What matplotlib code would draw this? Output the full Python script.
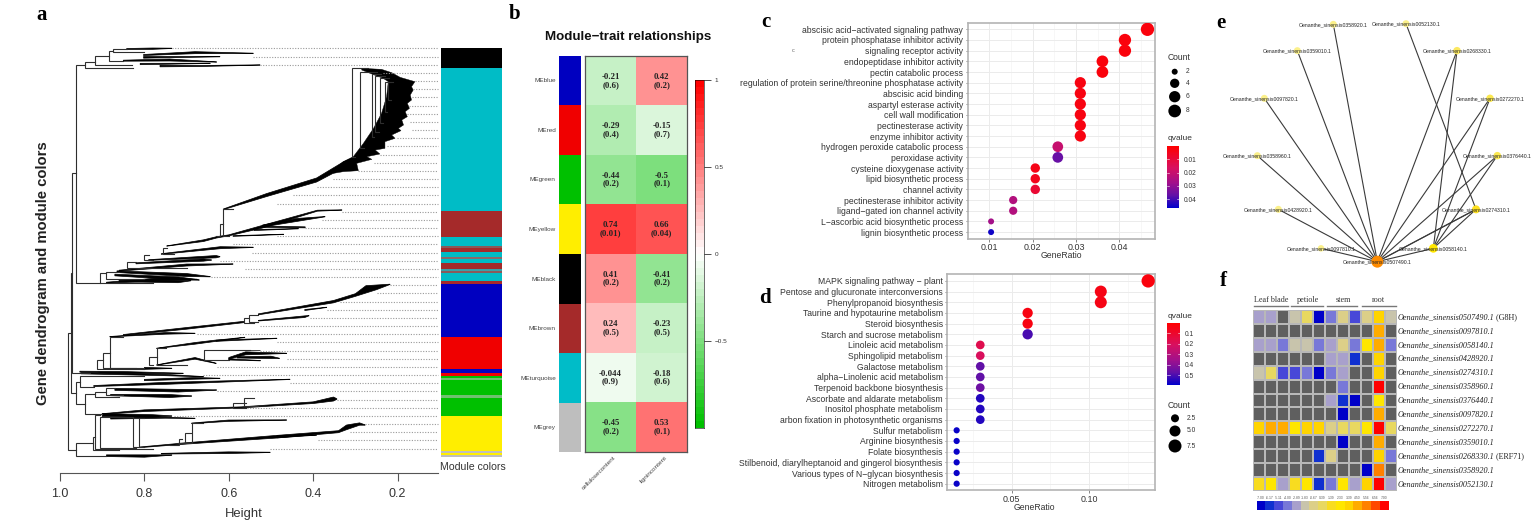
"""plot.py
Composite WGCNA figure: dendrogram, module-trait heatmap, two enrichment
dot plots, co-expression network and expression heatmap.
"""

import matplotlib

matplotlib.use("Agg")
import matplotlib.pyplot as plt
import numpy as np
from matplotlib.colors import LinearSegmentedColormap, ListedColormap

W, H = 1531, 528
SANS = "Liberation Sans"
SERIF = "Liberation Serif"
plt.rcParams["font.family"] = SANS

# ── Panel a: dendrogram ────────────────────────────────────────────────────────
# leaf rows run 145, 169.5, ... on a 0-1584 vertical scale
LEAF_TIPS = [
    .735, .542, .526, .234, .159, .163, .167, .174, .178, .170,
    .167, .202, .226, .242, .257, .293, .352, .392, .447, .486,
    .332, .380, .419, .486, .589, .546, .621, .562, .641, .218,
    .250, .336, .368, .408, .526, .676, .486, .526, .463, .629,
    .660, .455, .629, .344, .558, .731, .277, .313, .388, .502,
]

# (height, y top, y bottom, end of top arm, end of bottom arm)
BRANCHES = [
    (.982, 998, 1350, .974, .962), (.974, 820, 1178, .972, .962),
    (.972, 520, 1118, .963, .930), (.963, 195, 848, .941, .905),
    (.941, 185, 203, .917, .826), (.917, 168, 195, .885, .830),
    (.885, 152, 182, .874, .850), (.874, 148, 157, .842, .800),
    (.905, 820, 848, .890, .780), (.890, 815, 838, .860, .800),
    (.613, 628, 708, .590, .600), (.621, 672, 708, .613, .630),
    (.755, 745, 762, .747, .730), (.800, 765, 780, .790, .780),
    (.842, 785, 805, .820, .700), (.553, 945, 965, .530, .530),
    (.565, 955, 968, .553, .540), (.882, 1010, 1105, .850, .800),
    (.897, 1058, 1105, .882, .820), (.912, 1080, 1108, .897, .800),
    (.771, 1045, 1095, .750, .700), (.790, 1070, 1095, .771, .780),
    (.659, 1050, 1080, .550, .600), (.953, 1128, 1160, .800, .920),
    (.962, 1145, 1212, .953, .941), (.941, 1183, 1242, .917, .900),
    (.917, 1175, 1190, .890, .860), (.890, 1165, 1185, .870, .850),
    (.590, 1210, 1225, .560, .560), (.565, 1195, 1218, .540, .530),
    (.962, 1330, 1367, .921, .890), (.921, 1310, 1350, .917, .860),
    (.917, 1245, 1348, .905, .780), (.905, 1250, 1345, .826, .820),
    (.826, 1255, 1340, .812, .812), (.812, 1255, 1340, .800, .800),
    (.688, 1270, 1330, .660, .720), (.703, 1300, 1330, .690, .720),
    (.719, 1318, 1335, .710, .740),
    (.309, 205, 470, .270, .300), (.289, 215, 445, .250, .280),
    (.261, 222, 410, .240, .255), (.253, 228, 395, .230, .245),
    (.242, 235, 370, .220, .235), (.230, 245, 335, .215, .225),
    (.222, 245, 300, .210, .215),
]

# each sweep is a tapered run of leaves: (height, y, thickness)
SWEEPS = [
    [(.842, 147, 3), (.780, 146, 4), (.735, 145, 1)],
    [(.802, 165, 3), (.680, 158, 6), (.542, 160, 1)],
    [(.802, 172, 5), (.621, 170, 1)],
    [(.850, 182, 3), (.740, 180, 6), (.629, 186, 1)],
    [(.810, 192, 4), (.644, 190, 1)],
    [(.763, 198, 5), (.668, 198, 3), (.526, 195, 1)],
    [(.613, 628, 2), (.510, 585, 9), (.392, 540, 12), (.329, 495, 18), (.300, 475, 10)],
    [(.747, 738, 1), (.660, 722, 5), (.629, 712, 4), (.600, 706, 3), (.520, 680, 8),
     (.390, 632, 3), (.332, 630, 1)],
    [(.760, 762, 2), (.620, 743, 6), (.542, 742, 1)],
    [(.790, 780, 2), (.630, 770, 7), (.621, 770, 1)],
    [(.820, 790, 3), (.660, 780, 7), (.641, 780, 1)],
    [(.860, 812, 3), (.700, 795, 6), (.590, 792, 1)],
    [(.865, 815, 5), (.700, 825, 9), (.644, 830, 1)],
    [(.870, 825, 5), (.720, 835, 9), (.670, 840, 1)],
    [(.890, 848, 3), (.760, 838, 9), (.675, 838, 1)],
    [(.860, 843, 5), (.720, 845, 6), (.690, 842, 1)],
    [(.520, 680, 4), (.419, 682, 3)],
    [(.540, 690, 3), (.435, 686, 1)],
    [(.590, 708, 2), (.470, 703, 1)],
    [(.520, 678, 6), (.440, 660, 9), (.372, 650, 1)],
    [(.882, 1010, 1), (.750, 1000, 5), (.680, 1000, 1)],
    [(.850, 1005, 3), (.700, 985, 5), (.565, 966, 4)],
    [(.530, 943, 3), (.352, 905, 7), (.300, 885, 8), (.275, 868, 22), (.250, 862, 14),
     (.218, 853, 1)],
    [(.530, 962, 2), (.420, 950, 5), (.410, 947, 1)],
    [(.420, 930, 3), (.368, 922, 1)],
    [(.771, 1045, 1), (.680, 1030, 5), (.630, 1022, 4), (.486, 1015, 1)],
    [(.630, 1022, 3), (.562, 1012, 1)],
    [(.771, 1095, 1), (.680, 1075, 5), (.630, 1090, 1)],
    [(.659, 1050, 2), (.526, 1050, 2)],
    [(.600, 1075, 5), (.560, 1060, 9), (.463, 1060, 1)],
    [(.580, 1072, 4), (.500, 1072, 7), (.480, 1075, 1)],
    [(.600, 1078, 4), (.525, 1082, 1)],
    [(.800, 1105, 6), (.735, 1105, 1)],
    [(.953, 1115, 3), (.850, 1118, 7), (.708, 1120, 1)],
    [(.950, 1120, 3), (.750, 1125, 4), (.660, 1130, 1)],
    [(.800, 1140, 4), (.680, 1135, 5), (.621, 1135, 1)],
    [(.920, 1158, 3), (.750, 1150, 6), (.455, 1138, 1)],
    [(.870, 1168, 6), (.720, 1172, 8), (.629, 1170, 1)],
    [(.880, 1185, 4), (.740, 1188, 9), (.688, 1188, 1)],
    [(.900, 1242, 2), (.800, 1232, 5), (.570, 1222, 3), (.400, 1208, 5), (.352, 1197, 12),
     (.344, 1197, 2)],
    [(.900, 1245, 9), (.780, 1248, 8), (.735, 1248, 1)],
    [(.880, 1255, 4), (.750, 1253, 3), (.680, 1255, 1)],
    [(.812, 1342, 2), (.700, 1330, 4), (.486, 1310, 8), (.340, 1295, 6), (.321, 1282, 14),
     (.290, 1272, 7), (.277, 1275, 1)],
    [(.486, 1310, 7), (.392, 1305, 1)],
    [(.688, 1270, 2), (.600, 1262, 4), (.463, 1260, 1)],
    [(.890, 1367, 5), (.800, 1368, 7), (.735, 1365, 1)],
    [(.760, 1361, 2), (.600, 1358, 5), (.502, 1357, 1)],
]

# fan-shaped block of leaves at the top of the turquoise module
FAN_H = [.285, .238, .214, .194, .159, .167, .163, .170, .167, .177, .172, .182, .177, .190,
         .186, .198, .192, .214, .206, .230, .230, .253, .242, .273, .261, .297, .293, .329,
         .352, .352, .329, .305, .281, .257, .238, .226, .222, .234, .261, .285]
FAN_Y = [205, 208, 218, 232, 245, 260, 270, 285, 300, 310, 325, 335, 350, 360,
         375, 385, 392, 405, 415, 425, 445, 450, 462, 470, 478, 490, 512, 515,
         520, 512, 485, 470, 430, 385, 340, 290, 245, 235, 222, 210]

MODULE_EDGES = [145, 205, 632, 712, 738, 745, 757, 772, 777, 790, 808, 812, 820, 843, 852,
                1012, 1108, 1118, 1127, 1135, 1140, 1185, 1195, 1248, 1353, 1358, 1365, 1372]
MODULE_COLORS = ["#000000", "#00BCC6", "#A52A2A", "#00BCC6", "#8A5A5A", "#A52A2A", "#00BCC6",
                 "#8A6A6A", "#00BCC6", "#A52A2A", "#3AA0A8", "#8A5A5A", "#00BCC6", "#A52A2A",
                 "#0000C0", "#F00000", "#0000C0", "#F00000", "#00C000", "#70C070", "#00C000",
                 "#70C070", "#00C000", "#FFEE00", "#BEBEBE", "#FFEE00", "#BEBEBE"]
HEIGHT_TICKS = [1.0, 0.8, 0.6, 0.4, 0.2]

# ── Panel b: module-trait relationships ────────────────────────────────────────
ME_NAMES = ["MEblue", "MEred", "MEgreen", "MEyellow", "MEblack", "MEbrown", "MEturquoise", "MEgrey"]
ME_COLORS = ["#0000C0", "#F00000", "#00C000", "#FFEE00", "#000000", "#A52A2A", "#00BCC8", "#BEBEBE"]
TRAITS = ["cellulosecontent", "lignincontent"]
CELLULOSE_R = [-0.21, -0.29, -0.44, 0.74, 0.41, 0.24, -0.044, -0.45]
LIGNIN_R = [0.42, -0.15, -0.5, 0.66, -0.41, -0.23, -0.18, 0.53]
CELLULOSE_P = ["0.6", "0.4", "0.2", "0.01", "0.2", "0.5", "0.9", "0.2"]
LIGNIN_P = ["0.2", "0.7", "0.1", "0.04", "0.2", "0.5", "0.6", "0.1"]
R_TICKS = [-0.5, 0, 0.5, 1]

# ── Panel c: GO enrichment ─────────────────────────────────────────────────────
GO_TERMS = [
    "abscisic acid\u2212activated signaling pathway", "protein phosphatase inhibitor activity",
    "signaling receptor activity", "endopeptidase inhibitor activity", "pectin catabolic process",
    "regulation of protein serine/threonine phosphatase activity", "abscisic acid binding",
    "aspartyl esterase activity", "cell wall modification", "pectinesterase activity",
    "enzyme inhibitor activity", "hydrogen peroxide catabolic process", "peroxidase activity",
    "cysteine dioxygenase activity", "lipid biosynthetic process", "channel activity",
    "pectinesterase inhibitor activity", "ligand\u2212gated ion channel activity",
    "L\u2212ascorbic acid biosynthetic process", "lignin biosynthetic process",
]
GO_RATIO = [.0465, .0413, .0413, .0361, .0361, .031, .031, .031, .031, .031, .031,
            .0258, .0258, .0206, .0206, .0206, .0155, .0155, .0104, .0104]
GO_COUNT = [9, 8, 8, 7, 7, 6, 6, 6, 6, 6, 6, 5, 5, 4, 4, 4, 3, 3, 2, 2]
GO_Q = [.002, .002, .002, .002, .002, .003, .003, .003, .003, .003, .003,
        .020, .036, .004, .005, .009, .024, .024, .027, .045]
GO_DIAM = {9: 13.3, 8: 12.3, 7: 11.7, 6: 11.2, 5: 10.7, 4: 9.4, 3: 8.2, 2: 6}
GO_X_TICKS = [0.01, 0.02, 0.03, 0.04]
GO_Q_TICKS = [0.01, 0.02, 0.03, 0.04]
GO_LEGEND_COUNT = ["2", "4", "6", "8"]
GO_LEGEND_DIAM = [6, 9.3, 11.3, 12.7]

# ── Panel d: KEGG enrichment ───────────────────────────────────────────────────
KEGG_TERMS = [
    "MAPK signaling pathway \u2212 plant", "Pentose and glucuronate interconversions",
    "Phenylpropanoid biosynthesis", "Taurine and hypotaurine metabolism", "Steroid biosynthesis",
    "Starch and sucrose metabolism", "Linoleic acid metabolism", "Sphingolipid metabolism",
    "Galactose metabolism", "alpha\u2212Linolenic acid metabolism", "Terpenoid backbone biosynthesis",
    "Ascorbate and aldarate metabolism", "Inositol phosphate metabolism",
    "arbon fixation in photosynthetic organisms", "Sulfur metabolism", "Arginine biosynthesis",
    "Folate biosynthesis", "Stilbenoid, diarylheptanoid and gingerol biosynthesis",
    "Various types of N\u2212glycan biosynthesis", "Nitrogen metabolism",
]
KEGG_RATIO = [.1379, .1074, .1074, .0603, .0603, .0603, .0298, .0298, .0298, .0298, .0298,
              .0298, .0298, .0298, .0146, .0146, .0146, .0146, .0146, .0146]
KEGG_COUNT = [9, 7, 7, 4, 4, 4, 2, 2, 2, 2, 2, 2, 2, 2, 1, 1, 1, 1, 1, 1]
KEGG_Q = [.03, .05, .05, .04, .04, .50, .17, .20, .47, .47, .45, .55, .55, .55,
          .58, .58, .58, .58, .58, .58]
KEGG_DIAM = {9: 13.3, 7: 12, 4: 10.3, 2: 8.7, 1: 6.2}
KEGG_X_TICKS = [0.05, 0.10]
KEGG_Q_TICKS = [0.1, 0.2, 0.3, 0.4, 0.5]
KEGG_LEGEND_COUNT = ["2.5", "5.0", "7.5"]
KEGG_LEGEND_DIAM = [8, 11, 13]

# ── Panel e: network ───────────────────────────────────────────────────────────
NODES = ["0507490", "0058140", "0097810", "0428920", "0358960", "0097820", "0359010",
         "0358920", "0052130", "0268330", "0272270", "0376440", "0274310"]
NODE_X = [502, 670, 333, 205, 142, 163, 262, 370, 588, 741, 840, 862, 798]
NODE_Y = [785, 745, 745, 628, 467, 295, 152, 73, 71, 152, 295, 467, 628]
NODE_DIAM = [12, 8.7, 6.5, 7, 7, 7, 7, 7, 7, 7.5, 7.5, 7.5, 8]
NODE_COLORS = ["#FF8C00", "#FFE600", "#FBF08A", "#FBF08A", "#FBF08A", "#FBF08A", "#FBF08A",
               "#FBF08A", "#FBF08A", "#FBE860", "#FBE850", "#FBE850", "#FDE020"]
EDGE_A = ["0507490"] * 12 + ["0058140", "0058140", "0058140", "0058140", "0274310"]
EDGE_B = ["0058140", "0097810", "0428920", "0358960", "0097820", "0359010", "0358920",
          "0268330", "0272270", "0376440", "0274310", "0274310",
          "0268330", "0272270", "0376440", "0274310", "0052130"]

# ── Panel f: expression heatmap ────────────────────────────────────────────────
STEP_COLORS = ["#0000C8", "#1030D0", "#4848D8", "#7878D8", "#A8A0CC", "#C8C4AC", "#DCCF88", "#E8D860",
               "#F8DC20", "#FFE600", "#FFD400", "#FFAC00", "#FF8000", "#FF4800", "#FF0000"]
STEP_LABELS = ["-7.00", "-6.17", "-5.11", "-4.00", "-2.89", "-1.83", "-0.67", "0.39",
               "1.39", "2.33", "3.39", "4.50", "5.56", "6.56", "7.00"]
TISSUES = ["Leaf blade", "petiole", "stem", "root"]
GENES = ["0507490", "0097810", "0058140", "0428920", "0274310", "0358960", "0376440",
         "0097820", "0272270", "0359010", "0268330", "0358920", "0052130"]
GENE_NOTES = {"0507490": " (G8H)", "0268330": " (ERF71)"}
n = np.nan
EXPR = [
    [4, 4, n, 5, 7, 0, 3, 6, 2, 6, 10, 5],
    [n, n, n, n, n, n, n, n, n, n, 11, n],
    [4, 4, 3, 5, 5, 3, 4, 6, 3, 9, 11, 3],
    [n, n, n, n, n, n, 4, 4, 1, n, 10, n],
    [5, 7, 2, 2, 3, 0, 3, 4, n, n, 10, n],
    [n, n, n, n, n, n, n, 3, n, n, 14, n],
    [n, n, n, n, n, n, 4, 1, 0, n, 9, n],
    [n, n, n, n, n, n, n, 0, n, n, 11, n],
    [10, 11, 11, 9, 10, 10, 6, 7, 7, 9, 14, 7],
    [n, n, n, n, n, n, n, 0, n, n, 11, n],
    [n, n, n, n, n, 1, 6, n, n, n, 10, 3],
    [n, n, n, n, n, n, n, n, n, 0, 12, n],
    [8, 9, 4, 8, 9, 1, 3, 9, 4, 10, 14, 4],
]

# ── Figure ─────────────────────────────────────────────────────────────────────
fig = plt.figure(figsize=(W / 100, H / 100), dpi=100)


def px_axes(x0, y0, x1, y1):
    """Axes placed by pixel box, y measured from the top of the image."""
    return fig.add_axes([x0 / W, 1 - y1 / H, (x1 - x0) / W, (y1 - y0) / H])


def pt_size(diam_px):
    return (diam_px * 0.72) ** 2


over = px_axes(0, 0, W, H)
over.set_xlim(0, W)
over.set_ylim(H, 0)
over.axis("off")
over.set_zorder(5)

for letter, x, y in [("a", 42, 15), ("b", 515, 14), ("c", 766, 22), ("d", 765, 298),
                     ("e", 1221, 23), ("f", 1223, 281)]:
    over.text(x, y, letter, family=SERIF, weight="bold", fontsize=15, ha="center", va="center")
over.text(793, 50, "c", fontsize=4, color="#666666", ha="center", va="center")

# a: dendrogram
LINE = "#2E2E2E"
ax = px_axes(60, 0, 440, 472.7)
ax.set_xlim(1.0, 1 - 380 / 422)
ax.set_ylim(1418, 0)
ax.patch.set_alpha(0)
for i, tip in enumerate(LEAF_TIPS):
    y = 145 + i * 24.5
    ax.plot([tip, 0.105], [y, y], color="#999999", lw=0.8, ls=(0, (1, 1.4)))
for h, y0, y1, top, bot in BRANCHES:
    ax.plot([top, h, h, bot], [y0, y0, y1, y1], color=LINE, lw=0.8, solid_joinstyle="miter")
for sweep in SWEEPS:
    hs, ys, ws = np.array(sweep).T
    ax.fill(np.r_[hs, hs[::-1]], np.r_[ys - ws / 2, (ys + ws / 2)[::-1]], color="black", lw=0.5)
ax.fill(FAN_H, FAN_Y, color="black", lw=0.3)
for side in ["top", "left", "right"]:
    ax.spines[side].set_visible(False)
ax.spines["bottom"].set_bounds(1.0, 0.105)
ax.spines["bottom"].set_color("#555555")
ax.spines["bottom"].set_linewidth(0.8)
ax.set_yticks([])
ax.set_xticks(HEIGHT_TICKS)
ax.set_xticklabels([f"{v:.1f}" for v in HEIGHT_TICKS], fontsize=9, color="#333333")
ax.tick_params(axis="x", length=5.8, width=0.8, color="#555555", pad=5)
over.text(244, 514, "Height", fontsize=9.4, color="#333333", ha="center", va="center")
over.text(42.7, 273, "Gene dendrogram and module colors", fontsize=10.7, rotation=90,
          weight="bold", color="#222222", ha="center", va="center")
over.text(472.7, 467, "Module colors", fontsize=7.6, color="#333333", ha="center", va="center")

ax = px_axes(440.7, 48.3, 501.7, 457.3)
ax.bar(0, np.diff(MODULE_EDGES), bottom=MODULE_EDGES[:-1], width=1, color=MODULE_COLORS, lw=0)
ax.set_xlim(-0.5, 0.5)
ax.set_ylim(1372, 145)
ax.axis("off")

# b: module-trait heatmap
ax = px_axes(559.3, 55.5, 581.3, 452.3)
ax.bar(0, [1] * 8, bottom=np.arange(8), width=1, color=ME_COLORS, lw=0)
ax.set_xlim(-0.5, 0.5)
ax.set_ylim(8, 0)
ax.set_xticks([])
ax.set_yticks(np.arange(8) + 0.5)
ax.set_yticklabels(ME_NAMES, fontsize=4.6, color="#444444")
ax.tick_params(axis="y", length=0, pad=2.5)
for sp in ax.spines.values():
    sp.set_visible(False)

r_cmap = LinearSegmentedColormap.from_list("gwr", ["#00C000", "#FFFFFF", "#FF0000"], N=50)
ax = px_axes(585, 56, 687.3, 451.7)
r_values = np.array([CELLULOSE_R, LIGNIN_R]).T
ax.pcolormesh(r_values, cmap=r_cmap, vmin=-1, vmax=1)
ax.set_ylim(8, 0)
ax.set_xticks([])
ax.set_yticks([])
for sp in ax.spines.values():
    sp.set_color("#555555")
    sp.set_linewidth(0.9)
for i in range(8):
    for j, (rs, ps) in enumerate([(CELLULOSE_R, CELLULOSE_P), (LIGNIN_R, LIGNIN_P)]):
        ax.text(j + 0.5, i + 0.5, f"{rs[i]:g}\n({ps[i]})", family=SERIF, weight="bold", fontsize=6.3,
                linespacing=1.0, color="#222222", ha="center", va="center")
for j, name in enumerate(TRAITS):
    ax.text(j + 0.56, 8.07, name, fontsize=4.6, color="#444444", rotation=45, ha="right", va="top",
            rotation_mode="anchor", clip_on=False)
over.text(628, 37, "Module\u2212trait relationships", fontsize=9.6, weight="bold", color="#111111",
          ha="center", va="center")

ax = px_axes(695, 80, 704.3, 428)
ax.pcolormesh([0, 1], np.linspace(-1, 1, 51), np.linspace(-1, 1, 50)[:, None], cmap=r_cmap, vmin=-1, vmax=1)
ax.set_xticks([])
ax.yaxis.tick_right()
ax.set_yticks(R_TICKS)
ax.set_yticklabels(["\u22120.5", "0", "0.5", "1"], fontsize=4.6, color="#333333")
ax.tick_params(axis="y", length=5.3, width=0.6, pad=2, color="#333333")
for sp in ax.spines.values():
    sp.set_linewidth(0.4)

# c, d: dot plots
q_cmap = LinearSegmentedColormap.from_list(
    "q", [(0, "#FF0000"), (0.35, "#D8105F"), (0.6, "#A0108C"), (0.8, "#6010A8"), (1, "#0000CC")]
)


def dot_panel(box, terms, ratio, count, q, diam, q_lim, xlim, xticks, xfmt):
    ax = px_axes(*box)
    ax.set_axisbelow(True)
    rows = np.arange(len(terms))
    sizes = [pt_size(diam[c]) for c in count]
    ax.scatter(ratio, rows, s=sizes, c=q, cmap=q_cmap, vmin=q_lim[0], vmax=q_lim[1], lw=0, zorder=3)
    ax.set_xlim(*xlim)
    ax.set_ylim(len(terms) - 1 + 0.62, -0.62)
    ax.set_yticks(rows)
    ax.set_yticklabels(terms, fontsize=6.2, color="#333333")
    ax.set_xticks(xticks)
    ax.set_xticklabels([xfmt.format(v) for v in xticks], fontsize=6.4, color="#333333")
    mids = np.array(xticks[:-1]) + np.diff(xticks) / 2
    step = xticks[1] - xticks[0]
    ax.set_xticks(np.r_[xticks[0] - step / 2, mids, xticks[-1] + step / 2], minor=True)
    ax.grid(True, which="major", color="#EBEBEB", lw=0.7)
    ax.grid(True, which="minor", axis="x", color="#F2F2F2", lw=0.4)
    ax.tick_params(axis="both", which="major", length=1.8, width=0.5, pad=1.5, color="#555555")
    ax.tick_params(axis="x", which="minor", length=0)
    for sp in ax.spines.values():
        sp.set_color("#B4B4B4")
        sp.set_linewidth(1.2)
    return ax


def q_legend(box, q_lim, ticks, fmt):
    ax = px_axes(*box)
    levels = np.linspace(q_lim[0], q_lim[1], 101)
    ax.pcolormesh([0, 1], levels, ((levels[:-1] + levels[1:]) / 2)[:, None], cmap=q_cmap,
                  vmin=q_lim[0], vmax=q_lim[1])
    ax.set_ylim(q_lim[1], q_lim[0])
    ax.set_xticks([])
    ax.yaxis.tick_right()
    ax.set_yticks(ticks)
    ax.set_yticklabels([fmt.format(v) for v in ticks], fontsize=4.8, color="#333333")
    ax.tick_params(axis="y", length=0, pad=3.5)
    for v in ticks:
        ax.plot([0, 0.18], [v, v], color="white", lw=0.4)
        ax.plot([0.82, 1], [v, v], color="white", lw=0.4)
    ax.set_xlim(0, 1)
    for sp in ax.spines.values():
        sp.set_visible(False)


dot_panel((967.7, 22.7, 1155, 238.7), GO_TERMS, GO_RATIO, GO_COUNT, GO_Q, GO_DIAM,
          (0, 0.0465), (0.00866, 0.04824), GO_X_TICKS, "{:.2f}")
over.text(1061, 255.5, "GeneRatio", fontsize=6.2, color="#333333", ha="center", va="center")
over.text(1167.5, 57.5, "Count", fontsize=6.2, color="#333333", ha="left", va="center")
over.scatter([1174.7] * 4, [71.7, 83.3, 96.7, 111], s=[pt_size(d) for d in GO_LEGEND_DIAM], c="black", lw=0)
for label, y in zip(GO_LEGEND_COUNT, [71.7, 83.3, 96.7, 111]):
    over.text(1186, y, label, fontsize=4.8, color="#333333", ha="left", va="center")
over.text(1167.5, 139, "qvalue", fontsize=6, color="#333333", ha="left", va="center")
q_legend((1167.3, 146, 1179.3, 208), (0, 0.0465), GO_Q_TICKS, "{:.2f}")

dot_panel((947.3, 274.3, 1155, 490.3), KEGG_TERMS, KEGG_RATIO, KEGG_COUNT, KEGG_Q, KEGG_DIAM,
          (0.0016, 0.592), (0.00858, 0.1423), KEGG_X_TICKS, "{:.2f}")
over.text(1034.5, 507.5, "GeneRatio", fontsize=6.2, color="#333333", ha="center", va="center")
over.text(1167.5, 316, "qvalue", fontsize=6, color="#333333", ha="left", va="center")
q_legend((1167.3, 323, 1180, 385), (0.0016, 0.592), KEGG_Q_TICKS, "{:.1f}")
over.text(1167.8, 405, "Count", fontsize=6.2, color="#333333", ha="left", va="center")
over.scatter([1175] * 3, [418.3, 431, 446], s=[pt_size(d) for d in KEGG_LEGEND_DIAM], c="black", lw=0)
for label, y in zip(KEGG_LEGEND_COUNT, [418.3, 431, 446]):
    over.text(1187, y, label, fontsize=4.8, color="#333333", ha="left", va="center")

# e: network
ax = px_axes(1210, 0, 1531, 275)
ax.set_xlim(0, 963)
ax.set_ylim(825, 0)
ax.axis("off")
where = {name: (x, y) for name, x, y in zip(NODES, NODE_X, NODE_Y)}
for a, b in zip(EDGE_A, EDGE_B):
    ax.plot([where[a][0], where[b][0]], [where[a][1], where[b][1]], color="#3A3A3A", lw=0.8, zorder=1)
ax.scatter(NODE_X, NODE_Y, s=[pt_size(d) for d in NODE_DIAM], c=NODE_COLORS, lw=0, zorder=2)
for name, x, y in zip(NODES, NODE_X, NODE_Y):
    ax.text(x, y, f"Oenanthe_sinensis{name}.1", fontsize=3.7, color="#222222",
            ha="center", va="center", zorder=3)

# f: expression heatmap
step_cmap = ListedColormap(STEP_COLORS)
step_cmap.set_bad("#5F5F5F")
ax = px_axes(1253.3, 310, 1396.7, 491)
ax.pcolormesh(np.ma.masked_invalid(EXPR), cmap=step_cmap, vmin=-0.5, vmax=14.5, edgecolors="#B8B8B8", lw=0.25)
ax.set_ylim(len(GENES), 0)
ax.axis("off")
for i, gene in enumerate(GENES):
    t = ax.text(12.08, i + 0.5, f"Oenanthe_sinensis{gene}.1", family=SERIF, style="italic",
                fontsize=5.9, color="#222222", ha="left", va="center", clip_on=False)
    if gene in GENE_NOTES:
        ax.annotate(GENE_NOTES[gene], xy=(1, 0), xycoords=t, family=SERIF, fontsize=5.9,
                    color="#222222", ha="left", va="bottom", annotation_clip=False)
for name, x, x0, x1 in zip(TISSUES, [1271.3, 1308.3, 1343.3, 1378.3], [1254.3, 1291.3, 1326.7, 1362.3],
                           [1288.3, 1322.7, 1356.7, 1396]):
    over.text(x, 300.3, name, family=SERIF, fontsize=5.9, color="#333333", ha="center", va="center")
    over.plot([x0, x1], [305.7, 305.7], color="#777777", lw=1)

ax = px_axes(1256.7, 501.3, 1388.5, 509.7)
ax.pcolormesh(np.arange(16), [0, 1], np.arange(15)[None, :], cmap=step_cmap, vmin=-0.5, vmax=14.5)
ax.axis("off")
for i, label in enumerate(STEP_LABELS):
    ax.text(i + 0.5, 1.35, label, fontsize=2.4, color="#555555", ha="center", va="center", clip_on=False)

fig.savefig("out.png", dpi=100)
plt.close()
